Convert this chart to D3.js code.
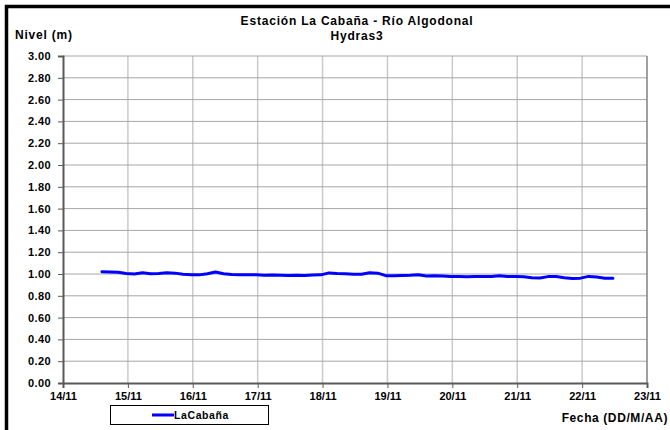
<!DOCTYPE html>
<html>
<head>
<meta charset="utf-8">
<script src="https://cdn.jsdelivr.net/npm/d3@7"></script>
<style>
  html, body { margin: 0; padding: 0; background: #fff; }
  svg { display: block; }
  text { font-family: Arial, "Liberation Sans", sans-serif; font-weight: bold; fill: #000; }
</style>
</head>
<body>
<svg id="chart" width="670" height="430"></svg>
<script>
// Station water level, logged every 3 hours (days counted from 14/11 00:00)
const seriesName = "LaCabaña";
const firstSampleDay = 0.6;      // 14/11 ~14:24
const sampleStepDays = 0.125;    // 3 h
const levels = [
  1.020, 1.018, 1.016, 1.005, 1.000, 1.012, 1.003, 1.005, 1.012, 1.008,
  0.997, 0.993, 0.992, 1.003, 1.018, 1.002, 0.995, 0.994, 0.994, 0.992,
  0.988, 0.990, 0.988, 0.987, 0.988, 0.987, 0.990, 0.992, 1.010, 1.005,
  1.003, 0.998, 0.998, 1.012, 1.008, 0.985, 0.984, 0.986, 0.988, 0.993,
  0.982, 0.983, 0.981, 0.976, 0.977, 0.975, 0.977, 0.976, 0.978, 0.985,
  0.977, 0.976, 0.974, 0.965, 0.963, 0.976, 0.977, 0.966, 0.958, 0.962,
  0.978, 0.972, 0.962, 0.962
];
const xTickLabels = ["14/11","15/11","16/11","17/11","18/11","19/11","20/11","21/11","22/11","23/11"];
const yTickValues = [0,0.2,0.4,0.6,0.8,1.0,1.2,1.4,1.6,1.8,2.0,2.2,2.4,2.6,2.8,3.0];

const svg = d3.select("#chart");
const plot = { left: 63, right: 647, top: 56, bottom: 383 };

// Outer frame
svg.append("rect")
  .attr("x", 6.5).attr("y", 6.5)
  .attr("width", 700).attr("height", 460)
  .attr("fill", "none").attr("stroke", "#000").attr("stroke-width", 3.5);

const x = d3.scaleLinear().domain([0, xTickLabels.length - 1]).range([plot.left, plot.right]);
const y = d3.scaleLinear().domain([0, 3]).range([plot.bottom, plot.top]);

// Gridlines
svg.append("g").selectAll("line").data(d3.range(1, xTickLabels.length - 1)).join("line")
  .attr("x1", d => x(d)).attr("x2", d => x(d))
  .attr("y1", plot.top).attr("y2", plot.bottom)
  .attr("stroke", "#cacaca").attr("stroke-width", 1.5);
svg.append("g").selectAll("line").data(yTickValues.slice(1)).join("line")
  .attr("x1", plot.left).attr("x2", plot.right)
  .attr("y1", d => y(d)).attr("y2", d => y(d))
  .attr("stroke", "#a6a6a6").attr("stroke-width", 1);

// Plot border (right side)
svg.append("line")
  .attr("x1", plot.right).attr("x2", plot.right)
  .attr("y1", plot.top).attr("y2", plot.bottom)
  .attr("stroke", "#808080").attr("stroke-width", 1.5);

// Y axis
const yAxis = svg.append("g")
  .attr("transform", `translate(${plot.left},0)`)
  .call(d3.axisLeft(y).tickValues(yTickValues).tickFormat(d3.format(".2f")).tickSize(5).tickPadding(7));
yAxis.select(".domain").attr("stroke", "#595959").attr("stroke-width", 2);
yAxis.selectAll(".tick line").attr("stroke", "#595959").attr("stroke-width", 1);
yAxis.selectAll(".tick text").attr("font-size", 11).attr("font-family", null)
  .attr("fill", "#000").attr("letter-spacing", 0.4);

// X axis
const xAxis = svg.append("g")
  .attr("transform", `translate(0,${plot.bottom})`)
  .call(d3.axisBottom(x).tickValues(d3.range(xTickLabels.length))
    .tickFormat(i => xTickLabels[i]).tickSize(5).tickPadding(4));
xAxis.select(".domain").attr("stroke", "#595959").attr("stroke-width", 2);
xAxis.selectAll(".tick line").attr("stroke", "#595959").attr("stroke-width", 1);
xAxis.selectAll(".tick text").attr("font-size", 11).attr("font-family", null).attr("fill", "#000");

// Level series
const line = d3.line()
  .x((d, i) => x(firstSampleDay + i * sampleStepDays))
  .y(d => y(d));
svg.append("path")
  .datum(levels)
  .attr("d", line)
  .attr("fill", "none")
  .attr("stroke", "#0000ff")
  .attr("stroke-width", 3)
  .attr("stroke-linejoin", "round")
  .attr("stroke-linecap", "round");

// Titles
svg.append("text").attr("x", 357).attr("y", 25).attr("text-anchor", "middle")
  .attr("font-size", 12).attr("letter-spacing", 0.8).text("Estación La Cabaña - Río Algodonal");
svg.append("text").attr("x", 357).attr("y", 39.5).attr("text-anchor", "middle")
  .attr("font-size", 12).attr("letter-spacing", 0.8).text("Hydras3");
svg.append("text").attr("x", 15).attr("y", 39)
  .attr("font-size", 12).attr("letter-spacing", 0.8).text("Nivel (m)");
svg.append("text").attr("x", 668).attr("y", 422).attr("text-anchor", "end")
  .attr("font-size", 12).attr("letter-spacing", 0.6).text("Fecha (DD/M/AA)");

// Legend
const legend = svg.append("g");
legend.append("rect")
  .attr("x", 110.5).attr("y", 405.5).attr("width", 158).attr("height", 19)
  .attr("fill", "#fff").attr("stroke", "#000").attr("stroke-width", 1);
legend.append("line")
  .attr("x1", 152).attr("x2", 174).attr("y1", 415).attr("y2", 415)
  .attr("stroke", "#0000ff").attr("stroke-width", 3);
legend.append("text").attr("x", 174).attr("y", 419)
  .attr("font-size", 10.5).attr("letter-spacing", 0.6).text(seriesName);
</script>
</body>
</html>
